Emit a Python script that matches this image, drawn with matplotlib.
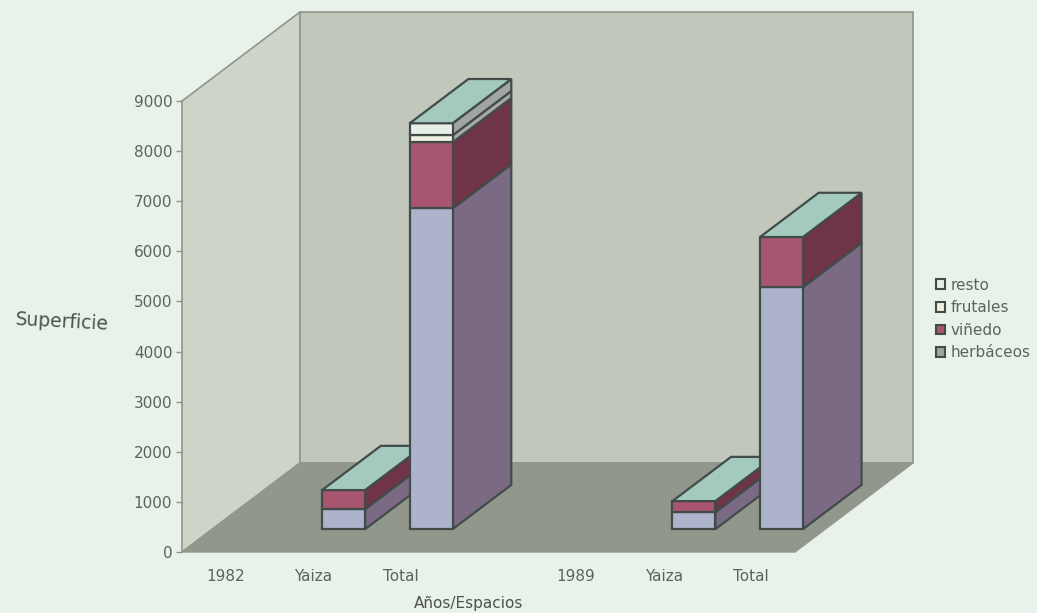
import matplotlib
matplotlib.use('Agg')
import matplotlib.pyplot as plt
from matplotlib.patches import Polygon, Patch

# Datos
categorias = ['1982', 'Yaiza', 'Total', '', '1989', 'Yaiza', 'Total']
herbaceos = [0, 400, 6400, 0, 0, 340, 4830]
vinedo = [0, 380, 1320, 0, 0, 220, 1000]
frutales = [0, 0, 140, 0, 0, 0, 0]
resto = [0, 0, 240, 0, 0, 0, 0]
ticks_y = [0, 1000, 2000, 3000, 4000, 5000, 6000, 7000, 8000, 9000]

# Colores: (frente, lado)
series = [
    ('herbáceos', herbaceos, '#aeb3cc', '#7b6a84'),
    ('viñedo', vinedo, '#a8566f', '#6f3448'),
    ('frutales', frutales, '#eeefdd', '#a6a9a4'),
    ('resto', resto, '#e8efe8', '#a2a6a2'),
]
color_fondo = '#e9f2ea'
color_borde = '#414c4a'
color_techo = '#a4cabf'
color_texto = '#5c625e'

# Desplazamiento de la profundidad, en unidades de los ejes
prof_x = 1.35
prof_y = 1780


def proyectar(x, v, d):
    return (x + d * prof_x, v + d * prof_y)


def cara(ax, puntos, color, borde, lw=1.6, z=1):
    ax.add_patch(Polygon(puntos, closed=True, facecolor=color, edgecolor=borde,
                         linewidth=lw, joinstyle='miter', clip_on=False, zorder=z))


def barra(ax, i, serie_z):
    x0, x1 = i - 0.245, i + 0.245
    d0, d1 = 0.256, 0.752
    base = 0
    for nombre, valores, frente, lado in series:
        v = valores[i]
        if v > 0:
            cara(ax, [proyectar(x1, base, d0), proyectar(x1, base, d1),
                      proyectar(x1, base + v, d1), proyectar(x1, base + v, d0)],
                 lado, color_borde, z=serie_z)
            cara(ax, [proyectar(x0, base, d0), proyectar(x1, base, d0),
                      proyectar(x1, base + v, d0), proyectar(x0, base + v, d0)],
                 frente, color_borde, z=serie_z)
            base += v
    cara(ax, [proyectar(x0, base, d0), proyectar(x1, base, d0),
              proyectar(x1, base, d1), proyectar(x0, base, d1)],
         color_techo, color_borde, z=serie_z)


fig = plt.figure(figsize=(10.37, 6.13), dpi=100, facecolor=color_fondo)
ax = fig.add_axes([182 / 1037, 1 - 552 / 613, (795 - 182) / 1037, (552 - 101) / 613])
ax.patch.set_visible(False)
ax.set_xlim(-0.5, 6.5)
ax.set_ylim(0, 9000)

# Paredes y suelo del grafico 3D
xa, xb = -0.5, 6.5
cara(ax, [proyectar(xa, 0, 0), proyectar(xa, 9000, 0), proyectar(xa, 9000, 1), proyectar(xa, 0, 1)],
     '#cfd4c9', '#8f958d', lw=1.2, z=0)
cara(ax, [proyectar(xa, 0, 1), proyectar(xa, 9000, 1), proyectar(xb, 9000, 1), proyectar(xb, 0, 1)],
     '#c2c7bc', '#8f958d', lw=1.2, z=0)
cara(ax, [proyectar(xa, 0, 0), proyectar(xb, 0, 0), proyectar(xb, 0, 1), proyectar(xa, 0, 1)],
     '#92978c', '#92978c', lw=1.0, z=0.5)

# Las barras pequenas van detras de las grandes
for z, i in enumerate([1, 2, 5, 6]):
    barra(ax, i, 2 + z)

ax.set_xticks(range(len(categorias)))
ax.set_xticklabels(categorias)
ax.set_yticks(ticks_y)
ax.tick_params(axis='x', length=0, pad=12, labelsize=11, labelcolor=color_texto)
ax.tick_params(axis='y', length=4, width=1, color='#8f958d', pad=3, labelsize=11, labelcolor=color_texto)
for s in ['top', 'right', 'bottom', 'left']:
    ax.spines[s].set_visible(False)

ax.set_xlabel('Años/Espacios', fontsize=11, color='#4c524e', fontweight='medium', labelpad=9, x=0.468)
fig.text(62 / 1037, 1 - 322 / 613, 'Superficie', fontsize=13.5, color='#4c524e',
         rotation=-3, ha='center', va='center')

# Leyenda
handles = [Patch(facecolor=c, edgecolor=color_borde, linewidth=1.5, label=n) for n, c in
           [('resto', '#e8efe8'), ('frutales', '#eeefdd'), ('viñedo', '#a8566f'), ('herbáceos', '#9aa5a0')]]
leg = fig.legend(handles=handles, loc='center left', bbox_to_anchor=(936 / 1037, 1 - 319 / 613),
                 frameon=False, fontsize=11, handlelength=0.6, handleheight=0.6,
                 handletextpad=0.35, labelspacing=0.5, borderpad=0, borderaxespad=0)
for t in leg.get_texts():
    t.set_color(color_texto)

fig.savefig('out.png', dpi=100, facecolor=color_fondo)
